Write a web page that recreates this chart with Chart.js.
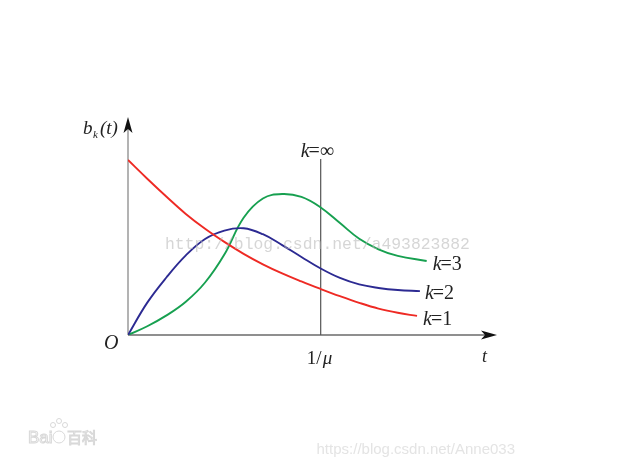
<!DOCTYPE html>
<html>
<head>
<meta charset="utf-8">
<script src="https://cdn.jsdelivr.net/npm/chart.js@4/dist/chart.umd.min.js"></script>
<style>
  html, body { margin: 0; padding: 0; background: #fff; }
</style>
</head>
<body>
<canvas id="queueChart" width="620" height="466"></canvas>
<script>
// t in units of 1/mu, b_k(t) in arbitrary units
const tGrid = [0, 0.1, 0.2, 0.3, 0.4, 0.5, 0.6, 0.7, 0.8, 0.9, 1.0, 1.1, 1.2, 1.3, 1.4];

const k1T = tGrid.concat([1.5]);
const k1B = [1.0, 0.893, 0.79, 0.692, 0.607, 0.532, 0.464, 0.404, 0.352, 0.306, 0.263, 0.222, 0.184, 0.151, 0.127, 0.109];

const k2T = tGrid.concat([1.515]);
const k2B = [0, 0.185, 0.33, 0.455, 0.549, 0.597, 0.610, 0.576, 0.514, 0.446, 0.380, 0.326, 0.289, 0.269, 0.257, 0.251];

const k3T = tGrid.concat([1.55]);
const k3B = [0, 0.05, 0.112, 0.19, 0.30, 0.46, 0.67, 0.78, 0.806, 0.789, 0.729, 0.64, 0.55, 0.49, 0.452, 0.423];

const kInfT = [1, 1];
const kInfB = [0, 1.006];

const seriesLabels = ['k=1', 'k=2', 'k=3', 'k=∞'];

function pts(xs, ys) {
  return xs.map((x, i) => ({ x: x, y: ys[i] }));
}

function arrow(ctx, x, y, dir) {
  // stealth style arrow head, dir: 'up' or 'right'
  ctx.save();
  ctx.translate(x, y);
  if (dir === 'right') ctx.rotate(Math.PI / 2);
  ctx.beginPath();
  ctx.moveTo(0, 0);
  ctx.lineTo(-4.5, 16);
  ctx.lineTo(0, 12);
  ctx.lineTo(4.5, 16);
  ctx.closePath();
  ctx.fillStyle = '#111';
  ctx.fill();
  ctx.restore();
}

const axesPlugin = {
  id: 'axesPlugin',
  beforeDatasetsDraw(chart) {
    const ctx = chart.ctx;
    const xs = chart.scales.x, ys = chart.scales.y;
    const x0 = xs.getPixelForValue(0), y0 = ys.getPixelForValue(0);
    ctx.save();
    ctx.lineWidth = 1.5;
    ctx.strokeStyle = '#9a9a9a';
    ctx.beginPath();
    ctx.moveTo(x0, y0);
    ctx.lineTo(x0, ys.top + 6);
    ctx.stroke();
    ctx.strokeStyle = '#6a6a6a';
    ctx.beginPath();
    ctx.moveTo(x0, y0);
    ctx.lineTo(xs.right - 6, y0);
    ctx.stroke();
    arrow(ctx, x0, ys.top, 'up');
    arrow(ctx, xs.right, y0, 'right');
    ctx.restore();
  },
  afterDraw(chart) {
    const ctx = chart.ctx;
    const xs = chart.scales.x, ys = chart.scales.y;
    const x0 = xs.getPixelForValue(0), y0 = ys.getPixelForValue(0);
    ctx.save();
    ctx.fillStyle = '#222';
    ctx.textBaseline = 'alphabetic';

    // y axis title b_k(t)
    ctx.font = 'italic 19px "Liberation Serif"';
    ctx.fillText('b', x0 - 45, ys.top + 17);
    ctx.font = 'italic 11px "Liberation Serif"';
    ctx.fillText('k', x0 - 35, ys.top + 21);
    ctx.font = 'italic 19px "Liberation Serif"';
    ctx.fillText('(t)', x0 - 28, ys.top + 17);

    // origin
    ctx.font = 'italic 20px "Liberation Serif"';
    ctx.fillText('O', x0 - 24, y0 + 14);

    // t axis label
    ctx.font = 'italic 18px "Liberation Serif"';
    ctx.fillText('t', xs.right - 15, y0 + 27);

    // 1/mu
    const xm = xs.getPixelForValue(1);
    ctx.font = '19px "Liberation Serif"';
    ctx.fillText('1/', xm - 14, y0 + 29);
    ctx.font = 'italic 19px "Liberation Serif"';
    ctx.fillText('μ', xm + 2, y0 + 29);

    // curve labels
    function klabel(txt, x, y) {
      ctx.font = 'italic 20px "Liberation Serif"';
      ctx.fillText('k', x, y);
      const w = ctx.measureText('k').width;
      ctx.font = '20px "Liberation Serif"';
      ctx.fillText(txt, x + w - 1, y);
    }
    klabel('=∞', xm - 20, ys.getPixelForValue(kInfB[1]) - 2);
    klabel('=3', xs.getPixelForValue(k3T[k3T.length - 1]) + 6, ys.getPixelForValue(k3B[k3B.length - 1]) + 9);
    klabel('=2', xs.getPixelForValue(k2T[k2T.length - 1]) + 5, ys.getPixelForValue(k2B[k2B.length - 1]) + 8);
    klabel('=1', xs.getPixelForValue(k1T[k1T.length - 1]) + 6, ys.getPixelForValue(k1B[k1B.length - 1]) + 9);

    // watermarks
    ctx.fillStyle = 'rgba(180,180,180,0.55)';
    ctx.font = '16.4px "Liberation Mono"';
    ctx.fillText('http://blog.csdn.net/a493823882', 165, 249);

    ctx.fillStyle = '#e4e4e4';
    ctx.font = '15px "Liberation Sans"';
    ctx.textAlign = 'right';
    ctx.fillText('https://blog.csdn.net/Anne033', 515, 454);

    ctx.textAlign = 'left';
    ctx.font = '17px "Liberation Sans"';
    ctx.strokeStyle = '#d8d8d8';
    ctx.lineWidth = 1;
    ctx.strokeText('Bai', 28, 443);
    ctx.font = '15px "Noto Sans CJK SC"';
    ctx.strokeText('百科', 67, 443);
    ctx.beginPath();
    ctx.arc(59, 437, 6, 0, Math.PI * 2);
    ctx.stroke();
    [[53, 425], [59, 421], [65, 425]].forEach(p => {
      ctx.beginPath();
      ctx.arc(p[0], p[1], 2.5, 0, Math.PI * 2);
      ctx.stroke();
    });
    ctx.restore();
  }
};

const ctx = document.getElementById('queueChart').getContext('2d');

const queueChart = new Chart(ctx, {
  type: 'line',
  data: {
    datasets: [
      {
        label: seriesLabels[0],
        data: pts(k1T, k1B),
        borderColor: '#ee2a24',
        borderWidth: 1.9,
        pointRadius: 0,
        tension: 0.4
      },
      {
        label: seriesLabels[1],
        data: pts(k2T, k2B),
        borderColor: '#2c2a92',
        borderWidth: 1.9,
        pointRadius: 0,
        tension: 0.4
      },
      {
        label: seriesLabels[2],
        data: pts(k3T, k3B),
        borderColor: '#17a050',
        borderWidth: 1.9,
        pointRadius: 0,
        tension: 0.4
      },
      {
        label: seriesLabels[3],
        data: pts(kInfT, kInfB),
        borderColor: '#555',
        borderWidth: 1.2,
        pointRadius: 0
      }
    ]
  },
  options: {
    responsive: false,
    animation: false,
    devicePixelRatio: 1,
    layout: {
      padding: { left: 128, top: 117, right: 123, bottom: 131 }
    },
    plugins: {
      legend: { display: false },
      tooltip: { enabled: false }
    },
    scales: {
      x: { type: 'linear', display: false, min: 0, max: 1.915 },
      y: { type: 'linear', display: false, min: 0, max: 1.246 }
    }
  },
  plugins: [axesPlugin]
});
</script>
</body>
</html>
